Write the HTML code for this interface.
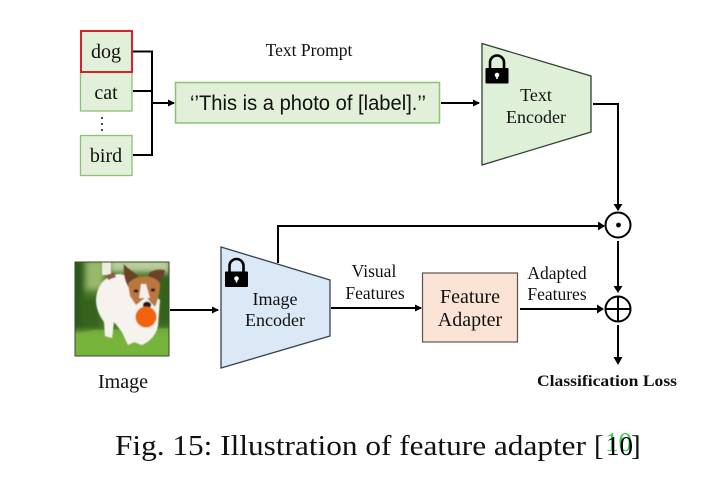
<!DOCTYPE html>
<html>
<head>
<meta charset="utf-8">
<style>
html,body{margin:0;padding:0;background:#fff;}
svg{display:block;}
text{font-family:"Liberation Serif",serif;fill:#111;}
</style>
</head>
<body>
<svg width="720" height="486" viewBox="0 0 720 486" xmlns="http://www.w3.org/2000/svg">
<defs>
<marker id="a" markerWidth="8" markerHeight="8" refX="6" refY="3.5" orient="auto" markerUnits="userSpaceOnUse"><path d="M0,0 L7,3.5 L0,7 Z" fill="#000"/></marker>
<filter id="b" x="-20%" y="-20%" width="140%" height="140%"><feGaussianBlur stdDeviation="3"/></filter>
<filter id="c" x="-5%" y="-5%" width="110%" height="110%"><feGaussianBlur stdDeviation="0.6"/></filter>
<clipPath id="p"><rect x="75" y="262" width="94" height="94"/></clipPath>
</defs>

<!-- label boxes -->
<rect x="80.5" y="72" width="51.5" height="39" fill="#e2efd9" stroke="#8fc078" stroke-width="1.3"/>
<rect x="80.5" y="135.5" width="51.5" height="40" fill="#e2efd9" stroke="#8fc078" stroke-width="1.3"/>
<rect x="81" y="31" width="51" height="41" fill="#e2efd9" stroke="#d5232a" stroke-width="2"/>
<text x="106" y="58" font-size="20" text-anchor="middle">dog</text>
<text x="106" y="99" font-size="20" text-anchor="middle">cat</text>
<text x="106" y="162" font-size="20" text-anchor="middle">bird</text>
<circle cx="102" cy="118" r="1" fill="#111"/><circle cx="102" cy="124" r="1" fill="#111"/><circle cx="102" cy="130" r="1" fill="#111"/>

<!-- merge lines -->
<path d="M133,51.5H152V155H133M133,91H152" fill="none" stroke="#000" stroke-width="2"/>
<line x1="152" y1="103" x2="174" y2="103" stroke="#000" stroke-width="2" marker-end="url(#a)"/>

<!-- prompt -->
<text x="309" y="56" font-size="17.5" text-anchor="middle">Text Prompt</text>
<rect x="175.5" y="82.5" width="264" height="40.5" fill="#e2efd9" stroke="#8fc078" stroke-width="1.5"/>
<text x="190" y="110" font-size="21" style="font-family:'Liberation Sans',sans-serif" textLength="236" lengthAdjust="spacingAndGlyphs">‘’This is a photo of [label].’’</text>
<line x1="441" y1="103" x2="479" y2="103" stroke="#000" stroke-width="2" marker-end="url(#a)"/>

<!-- text encoder -->
<polygon points="482,43.5 591,76 591,132 482,165" fill="#dff0d8" stroke="#2f4030" stroke-width="1.3"/>
<rect x="485.5" y="68" width="23" height="15.5" rx="1" fill="#000"/>
<path d="M490,68V62.5a7,7 0 0 1 14,0V68" fill="none" stroke="#000" stroke-width="2.6"/>
<circle cx="497" cy="75" r="2.3" fill="#fff"/><rect x="496.2" y="75" width="1.6" height="4" fill="#fff"/>
<text x="536" y="101" font-size="18" text-anchor="middle">Text</text>
<text x="536" y="123" font-size="18" text-anchor="middle">Encoder</text>
<path d="M593,104H618V210" fill="none" stroke="#000" stroke-width="2"/>
<path d="M613.5,204 L618,211 L622.5,204 Z" fill="#000"/>

<!-- image -->
<g clip-path="url(#p)">
<rect x="75" y="262" width="94" height="94" fill="#4a7728"/>
<g filter="url(#b)">
<rect x="70" y="258" width="14" height="72" fill="#2c5a1a"/>
<rect x="86" y="260" width="18" height="30" fill="#98b96c"/>
<rect x="110" y="258" width="60" height="14" fill="#b9cd9c"/>
<rect x="158" y="274" width="14" height="50" fill="#35601f"/>
<rect x="80" y="298" width="20" height="30" fill="#35621f"/>
<rect x="70" y="332" width="104" height="28" fill="#7cb83f"/>
</g>
<g filter="url(#c)">
<path d="M75,356 V334 L95,330 L169,328 V356Z" fill="#75b33a" opacity=".75"/>
<path d="M102,262 h9 v13 h-9z" fill="#f0ece4"/>
<path d="M96,300 C97,285 105,275 120,274 L135,278 L160,300 L158,326 C156,334 152,340 142,345 L134,342 L128,345 L122,332 L114,322 L112,338 L105,336 L104,322 C99,315 96,308 96,300Z" fill="#f6f3ee"/>
<path d="M106,275 l8,-2 l2,4 l-8,3z" fill="#8a5a3a"/>
<path d="M124,264 C128,270 136,272 138,277 L129,288 C125,282 123,274 124,264Z" fill="#6b4228"/>
<path d="M149,273 C155,269 163,269 165,271 C163,279 159,284 156,283 L148,278Z" fill="#6b4228"/>
<path d="M128,284 C134,275 152,273 160,283 C160,292 158,300 155,307 L146,297 L136,305 L130,296Z" fill="#b9763c"/>
<path d="M141,284 L146,284 L150,298 L139,298Z" fill="#f5efe6"/>
<ellipse cx="136" cy="291" rx="2.5" ry="1.6" fill="#2a1a10"/>
<ellipse cx="153" cy="290" rx="2.2" ry="1.6" fill="#2a1a10"/>
<ellipse cx="147" cy="305" rx="4.2" ry="3.4" fill="#1a1a1a"/>
<circle cx="146" cy="317" r="10.5" fill="#f2640f"/>
</g>
</g>
<rect x="75" y="262" width="94" height="94" fill="none" stroke="#3a4a2a" stroke-width="1"/>
<text x="123" y="388" font-size="20" text-anchor="middle">Image</text>
<line x1="170" y1="310" x2="218" y2="310" stroke="#000" stroke-width="2" marker-end="url(#a)"/>

<!-- image encoder -->
<polygon points="221,247 330,280 330,336 221,368" fill="#dbe8f5" stroke="#36434f" stroke-width="1.3"/>
<rect x="225" y="271.5" width="23" height="15.5" rx="1" fill="#000"/>
<path d="M229.5,271.5V266a7,7 0 0 1 14,0V271.5" fill="none" stroke="#000" stroke-width="2.6"/>
<circle cx="236.5" cy="278.5" r="2.3" fill="#fff"/><rect x="235.7" y="278.5" width="1.6" height="4" fill="#fff"/>
<text x="275" y="305" font-size="18" text-anchor="middle">Image</text>
<text x="275" y="326" font-size="18" text-anchor="middle">Encoder</text>

<path d="M278,263V226H604" fill="none" stroke="#000" stroke-width="2"/>
<path d="M598,221.5 L605,226 L598,230.5 Z" fill="#000"/>
<line x1="331" y1="308" x2="421" y2="308" stroke="#000" stroke-width="2" marker-end="url(#a)"/>
<text x="374" y="277" font-size="17.5" text-anchor="middle">Visual</text>
<text x="375" y="299" font-size="17.5" text-anchor="middle">Features</text>

<!-- adapter -->
<rect x="422.5" y="273" width="95" height="69" fill="#fbe3d6" stroke="#555" stroke-width="1.2"/>
<text x="470" y="303" font-size="20" text-anchor="middle">Feature</text>
<text x="470" y="326" font-size="20" text-anchor="middle">Adapter</text>

<line x1="520" y1="309" x2="600" y2="309" stroke="#000" stroke-width="2"/>
<path d="M597,304.5 L604,309 L597,313.5 Z" fill="#000"/>
<text x="557" y="279" font-size="17.5" text-anchor="middle">Adapted</text>
<text x="557" y="300" font-size="17.5" text-anchor="middle">Features</text>

<!-- operators -->
<circle cx="618" cy="225" r="12.5" fill="#fff" stroke="#000" stroke-width="2"/>
<circle cx="618.5" cy="225" r="2.4" fill="#000"/>
<line x1="618" y1="241" x2="618" y2="290" stroke="#000" stroke-width="2"/>
<path d="M613.5,286 L618,293 L622.5,286 Z" fill="#000"/>
<circle cx="618" cy="309" r="12.5" fill="#fff" stroke="#000" stroke-width="2"/>
<path d="M605.5,309H630.5M618,296.5V321.5" stroke="#000" stroke-width="2"/>
<line x1="618" y1="325" x2="618" y2="362" stroke="#000" stroke-width="2"/>
<path d="M613.5,357 L618,365 L622.5,357 Z" fill="#000"/>
<text x="607" y="386" font-size="16" font-weight="bold" text-anchor="middle" textLength="140" lengthAdjust="spacingAndGlyphs">Classification Loss</text>

<!-- caption -->
<text x="115" y="455" font-size="29" textLength="471" lengthAdjust="spacingAndGlyphs">Fig. 15: Illustration of feature adapter</text>
<text x="594" y="455" font-size="29">[</text>
<text x="605" y="451" font-size="27" style="fill:#35d050">10</text>
<text x="606" y="455" font-size="27" style="fill:#000">10</text>
<text x="631" y="455" font-size="29">]</text>
</svg>
</body>
</html>
